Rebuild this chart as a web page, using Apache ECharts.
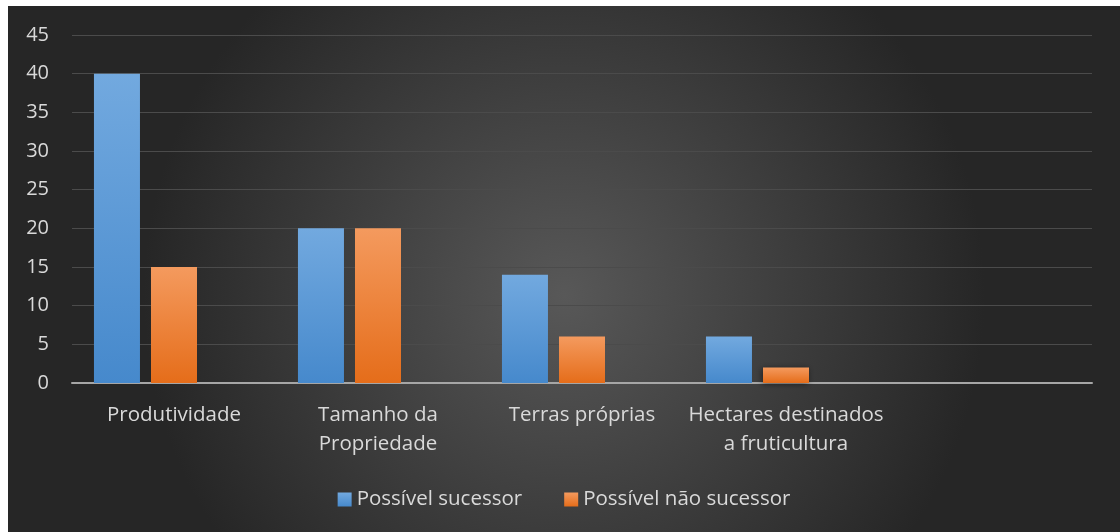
<!DOCTYPE html>
<html>
<head>
<meta charset="utf-8">
<script src="https://cdn.jsdelivr.net/npm/echarts@6/dist/echarts.min.js"></script>
<style>
	html, body { margin: 0; padding: 0; background: #ffffff; }
	#chart { position: absolute; left: 8px; top: 6px; width: 1112px; height: 526px; }
</style>
</head>
<body>
<div id="chart"></div>
<script>
// categorias (a quinta fica vazia, como no original)
var categorias = ['Produtividade', 'Tamanho da\nPropriedade', 'Terras próprias', 'Hectares destinados\na fruticultura', ''];
// séries
var sucessor = [40, 20, 14, 6, null];
var naoSucessor = [15, 20, 6, 2, null];
var vazio = [null, null, null, null, null];
var nomes = ['Possível sucessor', 'Possível não sucessor'];

var fonte = 'Open Sans';
var corTexto = '#d9d9d9';

var myChart = echarts.init(document.getElementById('chart'));
var option = {
	backgroundColor: new echarts.graphic.RadialGradient(0.5, 0.55, 0.8, [
		{ offset: 0, color: '#585858' },
		{ offset: 1, color: '#262626' }
	]),
	textStyle: { fontFamily: fonte },
	grid: {
		left: 64,
		right: 28,
		top: 29,
		bottom: 149
	},
	legend: {
		data: nomes,
		left: 'center',
		top: 478,
		itemWidth: 14,
		itemHeight: 14,
		itemGap: 42,
		icon: 'rect',
		textStyle: {
			color: corTexto,
			fontSize: 20.5,
			fontFamily: fonte
		}
	},
	xAxis: {
		type: 'category',
		data: categorias,
		axisLine: {
			lineStyle: { color: '#a6a6a6', width: 2 }
		},
		axisTick: { show: false },
		axisLabel: {
			color: corTexto,
			fontSize: 20.5,
			lineHeight: 29,
			margin: 18,
			interval: 0
		}
	},
	yAxis: {
		type: 'value',
		min: 0,
		max: 45,
		interval: 5,
		axisLine: { show: false },
		axisTick: { show: false },
		axisLabel: {
			color: corTexto,
			fontSize: 20,
			margin: 23
		},
		splitLine: {
			lineStyle: { color: '#4b4b4b', width: 1 }
		}
	},
	series: [{
		name: nomes[0],
		type: 'bar',
		data: sucessor,
		barWidth: 46,
		barGap: '24%',
		itemStyle: {
			color: new echarts.graphic.LinearGradient(0, 0, 0, 1, [
				{ offset: 0, color: '#72a9df' },
				{ offset: 1, color: '#4689cc' }
			]),
			shadowBlur: 6,
			shadowOffsetX: -1,
			shadowOffsetY: 1,
			shadowColor: 'rgba(0,0,0,0.5)'
		}
	}, {
		name: nomes[1],
		type: 'bar',
		data: naoSucessor,
		barWidth: 46,
		barGap: '24%',
		itemStyle: {
			color: new echarts.graphic.LinearGradient(0, 0, 0, 1, [
				{ offset: 0, color: '#f49a5e' },
				{ offset: 1, color: '#e56d1a' }
			]),
			shadowBlur: 6,
			shadowOffsetX: -1,
			shadowOffsetY: 1,
			shadowColor: 'rgba(0,0,0,0.5)'
		}
	}, {
		// terceira série vazia que ocupa espaço
		name: 'vazio',
		type: 'bar',
		data: vazio,
		barWidth: 46,
		barGap: '24%'
	}]
};
myChart.setOption(option);
</script>
</body>
</html>
